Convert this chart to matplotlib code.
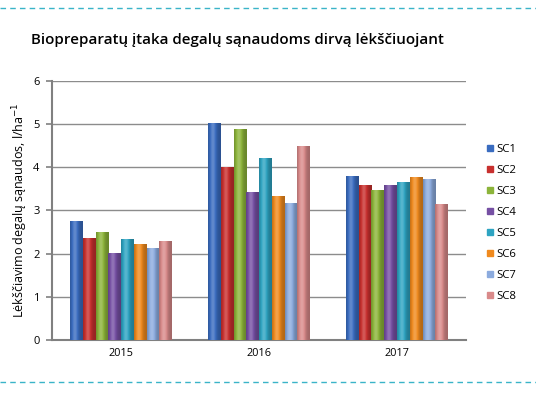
import numpy as np
import matplotlib
matplotlib.use("Agg")
import matplotlib.pyplot as plt
from matplotlib.colors import to_rgb
from matplotlib.lines import Line2D

years = ["2015", "2016", "2017"]
series = ["SC1", "SC2", "SC3", "SC4", "SC5", "SC6", "SC7", "SC8"]
sc1 = [2.76, 5.03, 3.80]
sc2 = [2.37, 4.01, 3.58]
sc3 = [2.51, 4.89, 3.48]
sc4 = [2.02, 3.43, 3.58]
sc5 = [2.34, 4.22, 3.65]
sc6 = [2.23, 3.32, 3.76]
sc7 = [2.12, 3.18, 3.72]
sc8 = [2.30, 4.48, 3.14]
values = [sc1, sc2, sc3, sc4, sc5, sc6, sc7, sc8]
colors = ["#3a6cc0", "#c8302e", "#8cb43a", "#7650a4", "#2ea4c2", "#f08a1e", "#8cabde", "#d98a8a"]

plt.rcParams['font.family'] = ['Open Sans', 'DejaVu Sans']

fig = plt.figure(figsize=(5.36, 3.95), dpi=100)
ax = fig.add_axes([0.097, 0.139, 0.772, 0.657])

n = len(series)
group_w = 0.74
bw = group_w / n
x = np.arange(len(years))

def shade(c):
    r, g, b = to_rgb(c)
    t = np.linspace(0, 1, 64)
    prof = 0.75 + 0.42 * np.exp(-((t - 0.38) / 0.28) ** 2)
    img = np.zeros((1, 64, 3))
    for i, ch in enumerate((r, g, b)):
        v = ch * prof
        v = np.where(prof > 1, ch + (1 - ch) * (prof - 1) * 1.2, v)
        img[0, :, i] = np.clip(v, 0, 1)
    return img

for i, (name, vals, col) in enumerate(zip(series, values, colors)):
    pos = x - group_w / 2 + bw * (i + 0.5)
    bars = ax.bar(pos, vals, width=bw * 0.97, color=col, label=name, zorder=3, linewidth=0)
    img = shade(col)
    for b in bars:
        x0, y0 = b.get_x(), b.get_y()
        w, h = b.get_width(), b.get_height()
        im = ax.imshow(img, extent=[x0, x0 + w, y0, y0 + h], aspect='auto', zorder=3.5, interpolation='bilinear')
        im.set_clip_path(b)

ax.set_xlim(-0.5, len(years) - 0.5)
ax.set_ylim(0, 6)
ax.set_yticks(range(0, 7))
ax.set_xticks(x)
ax.set_xticklabels(years, fontsize=7.8)
ax.tick_params(axis='y', labelsize=8, length=4, color='#808080', width=1.2, pad=5)
ax.tick_params(axis='x', length=0, pad=6)
ax.yaxis.grid(True, color='#8c8c8c', linewidth=1.0, zorder=0)
ax.set_axisbelow(True)
for s in ['top', 'right']:
    ax.spines[s].set_visible(False)
ax.spines['left'].set_color('#808080')
ax.spines['left'].set_linewidth(1.5)
ax.spines['bottom'].set_color('#808080')
ax.spines['bottom'].set_linewidth(1.5)

ax.set_ylabel(r"Lėkščiavimo degalų sąnaudos, l/ha$^{-1}$", fontsize=9, labelpad=2)

handles = [Line2D([0], [0], marker='s', linestyle='none', markersize=5,
                  markerfacecolor=c, markeredgecolor=c) for c in colors]
fig.legend(handles, series, loc='upper left', bbox_to_anchor=(0.895, 0.648),
           frameon=False, fontsize=8.2, handletextpad=0.05, labelspacing=0.88,
           handlelength=1.0, borderaxespad=0)

fig.text(0.057, 0.898, "Biopreparatų įtaka degalų sąnaudoms dirvą lėkščiuojant",
         fontsize=10.9, fontweight='semibold', va='center', ha='left')

dash_col = "#3ab4c8"
fig.add_artist(Line2D([0, 1], [0.98, 0.98], transform=fig.transFigure,
                      color=dash_col, linestyle=(0, (4, 3)), linewidth=1))
fig.add_artist(Line2D([0, 1], [0.033, 0.033], transform=fig.transFigure,
                      color=dash_col, linestyle=(0, (4, 3)), linewidth=1))

fig.savefig("out.png", dpi=100)
